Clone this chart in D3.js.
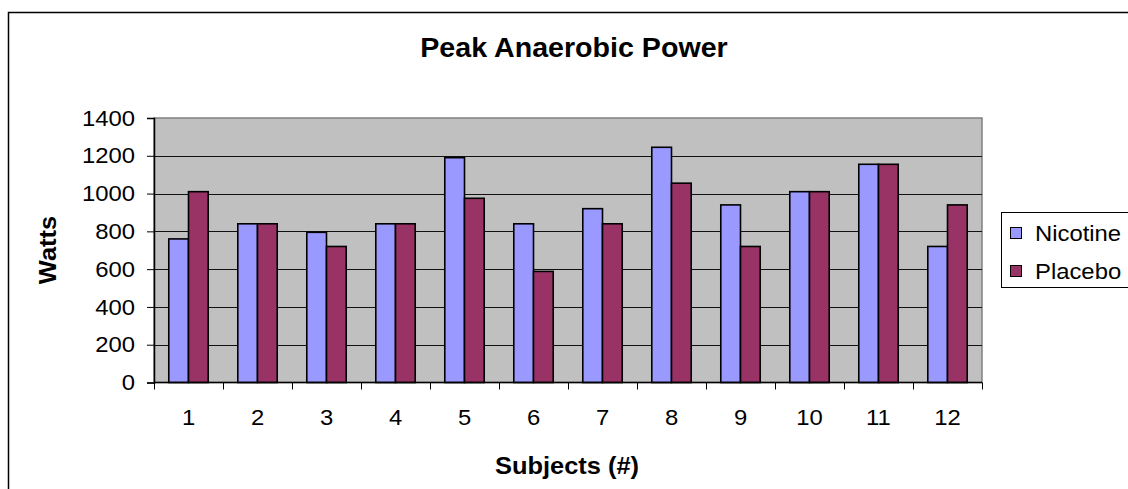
<!DOCTYPE html>
<html>
<head>
<meta charset="utf-8">
<script src="https://cdn.jsdelivr.net/npm/d3@7"></script>
<style>
  body { margin: 0; background: #fff; }
  svg { font-family: "Liberation Sans", Arial, sans-serif; }
</style>
</head>
<body>
<div id="chart"></div>
<script>
var subjects = ["1", "2", "3", "4", "5", "6", "7", "8", "9", "10", "11", "12"];
var nicotine = [760, 840, 795, 840, 1190, 840, 920, 1245, 940, 1010, 1155, 720];
var placebo = [1010, 840, 720, 840, 975, 588, 840, 1055, 720, 1010, 1155, 940];
var seriesNames = ["Nicotine", "Placebo"];
var seriesColors = ["#9999ff", "#993366"];
var yTicks = [0, 200, 400, 600, 800, 1000, 1200, 1400];

function init()
{
    var w = 1128;
    var h = 489;
    var left = 154, right = 982, top = 118, bottom = 382.5;
    var k = 1.06; // text in the picture is a little wide

    var svg = d3.select("#chart")
                .append("svg")
                .attr("width", w)
                .attr("height", h);

    // chart border (cut off on right and bottom like the picture)
    svg.append("rect")
       .attr("x", 8.5).attr("y", 12.5)
       .attr("width", 1200).attr("height", 600)
       .attr("fill", "#fff")
       .attr("stroke", "#000")
       .attr("stroke-width", 1.5);

    var xScale = d3.scaleBand()
                   .domain(subjects)
                   .range([left, right]);

    var inner = d3.scaleBand()
                  .domain(seriesNames)
                  .range([0, xScale.bandwidth()])
                  .paddingOuter(0.75)
                  .paddingInner(0);

    var yScale = d3.scaleLinear()
                   .domain([0, 1400])
                   .range([bottom, top]);

    // plot area
    svg.append("rect")
       .attr("x", left).attr("y", top)
       .attr("width", right - left).attr("height", bottom - top)
       .attr("fill", "#c0c0c0")
       .attr("stroke", "#808080")
       .attr("stroke-width", 1.5);

    // gridlines
    svg.selectAll(".grid")
       .data(yTicks.slice(1, -1))
       .enter()
       .append("line")
       .attr("x1", left).attr("x2", right)
       .attr("y1", function(d) { return Math.round(yScale(d)) + 0.5; })
       .attr("y2", function(d) { return Math.round(yScale(d)) + 0.5; })
       .attr("stroke", "#111")
       .attr("stroke-width", 1);

    // bars
    var flat = [];
    subjects.forEach(function(s, i) {
        flat.push({s: s, k: "Nicotine", v: nicotine[i], c: seriesColors[0]});
        flat.push({s: s, k: "Placebo", v: placebo[i], c: seriesColors[1]});
    });

    svg.selectAll(".bar")
       .data(flat)
       .enter()
       .append("rect")
       .attr("class", "bar")
       .attr("x", function(d) { return xScale(d.s) + inner(d.k); })
       .attr("y", function(d) { return yScale(d.v); })
       .attr("width", inner.bandwidth())
       .attr("height", function(d) { return bottom - yScale(d.v); })
       .attr("fill", function(d) { return d.c; })
       .attr("stroke", "#000")
       .attr("stroke-width", 1.6);

    // y axis
    var yAxis = d3.axisLeft(yScale)
                  .tickValues(yTicks)
                  .tickFormat(d3.format("d"))
                  .tickSize(7)
                  .tickPadding(12);
    var gy = svg.append("g")
                .attr("transform", "translate(" + left + ",0)")
                .call(yAxis);
    gy.select(".domain").attr("stroke", "#000").attr("stroke-width", 1.5);
    gy.selectAll("text")
      .attr("font-size", "22.5px")
      .attr("font-family", "Liberation Sans, Arial, sans-serif")
      .attr("fill", "#000")
      .attr("x", -19 / k)
      .attr("transform", "scale(" + k + ",1)");

    // x axis
    var xAxis = d3.axisBottom(xScale)
                  .tickSize(0)
                  .tickPadding(26.5);
    var gx = svg.append("g")
                .attr("transform", "translate(0," + bottom + ")")
                .call(xAxis);
    gx.select(".domain").attr("stroke", "#000").attr("stroke-width", 1.5)
      .attr("d", "M" + left + ",0H" + right);
    gx.selectAll("text")
      .attr("font-size", "22.5px")
      .attr("font-family", "Liberation Sans, Arial, sans-serif")
      .attr("fill", "#000")
      .attr("transform", "scale(" + k + ",1)");

    // category boundary ticks
    var bounds = subjects.map(function(s) { return xScale(s); }).concat([right]);
    svg.selectAll(".xtick")
       .data(bounds)
       .enter()
       .append("line")
       .attr("x1", function(d) { return Math.round(d) + 0.5; })
       .attr("x2", function(d) { return Math.round(d) + 0.5; })
       .attr("y1", bottom)
       .attr("y2", bottom + 7)
       .attr("stroke", "#000");

    // title and axis titles
    svg.append("text")
       .attr("transform", "translate(574,57) scale(" + k + ",1)")
       .attr("text-anchor", "middle")
       .attr("font-size", "27px")
       .attr("font-weight", "bold")
       .text("Peak Anaerobic Power");

    svg.append("text")
       .attr("transform", "translate(567,474) scale(" + k + ",1)")
       .attr("text-anchor", "middle")
       .attr("font-size", "24px")
       .attr("font-weight", "bold")
       .text("Subjects (#)");

    svg.append("text")
       .attr("transform", "translate(56,250) rotate(-90) scale(" + k + ",1)")
       .attr("text-anchor", "middle")
       .attr("font-size", "24px")
       .attr("font-weight", "bold")
       .text("Watts");

    // legend
    var lg = svg.append("g");
    lg.append("rect")
      .attr("x", 1001.5).attr("y", 212.5)
      .attr("width", 200).attr("height", 75)
      .attr("fill", "#fff")
      .attr("stroke", "#000");

    var items = lg.selectAll(".item")
                  .data(seriesNames)
                  .enter()
                  .append("g")
                  .attr("transform", function(d, i) { return "translate(1010," + (233 + i * 38) + ")"; });
    items.append("rect")
         .attr("x", 0.5).attr("y", -5.5)
         .attr("width", 11).attr("height", 11)
         .attr("fill", function(d, i) { return seriesColors[i]; })
         .attr("stroke", "#000");
    items.append("text")
         .attr("transform", "translate(25,8) scale(" + k + ",1)")
         .attr("font-size", "22.5px")
         .text(function(d) { return d; });
}
window.onload = init;
</script>
</body>
</html>
